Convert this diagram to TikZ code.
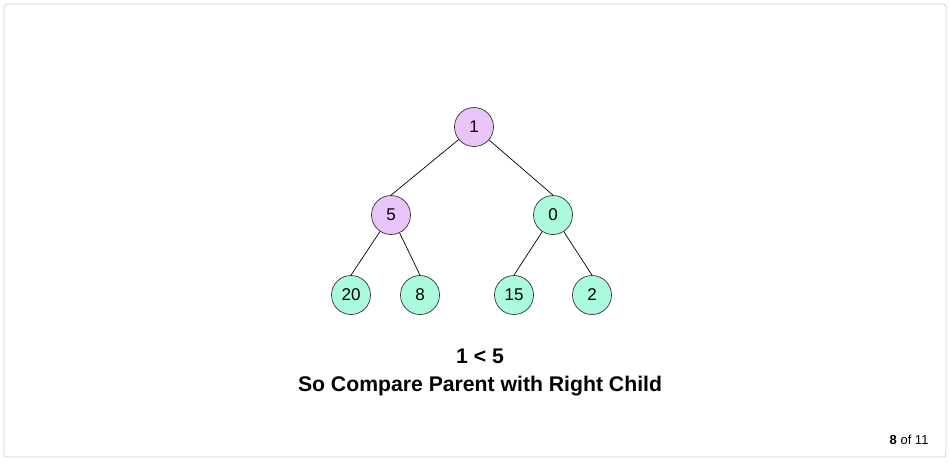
\documentclass[tikz,border=0pt]{standalone}
\usepackage{fontspec}
\setmainfont{Liberation Sans}
\definecolor{pur}{HTML}{E8C4FA}
\definecolor{grn}{HTML}{AAFADB}
\definecolor{frame}{HTML}{D0D0D0}
\begin{document}
\begin{tikzpicture}[x=1pt,y=-1pt,
  vtx/.style={circle,draw=black!80,line width=0.7pt,minimum size=39pt,inner sep=0pt,font=\fontsize{17}{19}\selectfont},
  pv/.style={vtx,fill=pur},
  gv/.style={vtx,fill=grn},
  edge/.style={draw=black,line width=0.7pt}]
\useasboundingbox (0,0) rectangle (950,461);
\draw[frame,line width=0.8pt,rounded corners=3pt] (4,4) rectangle (946,457);
\node[pv] (n1) at (474,127) {1};
\node[pv] (n5) at (391,215) {5};
\node[gv] (n0) at (553,215) {0};
\node[gv] (n20) at (351,295) {20};
\node[gv] (n8) at (420,295) {8};
\node[gv] (n15) at (514,295) {15};
\node[gv] (n2) at (592,295) {2};
\draw[edge] (n1) -- (n5.north);
\draw[edge] (n1) -- (n0.north);
\draw[edge] (n5) -- (n20.north);
\draw[edge] (n5) -- (n8.north);
\draw[edge] (n0) -- (n15.north);
\draw[edge] (n0) -- (n2.north);
\node[font=\fontsize{21.2}{28}\selectfont\bfseries,align=center] (cap) at (480,372.5) {1 < 5\\So Compare Parent with Right Child};
\node[font=\fontsize{13}{15}\selectfont,anchor=east] (pg) at (932,440) {\textbf{8} of 11};
\end{tikzpicture}
\end{document}
